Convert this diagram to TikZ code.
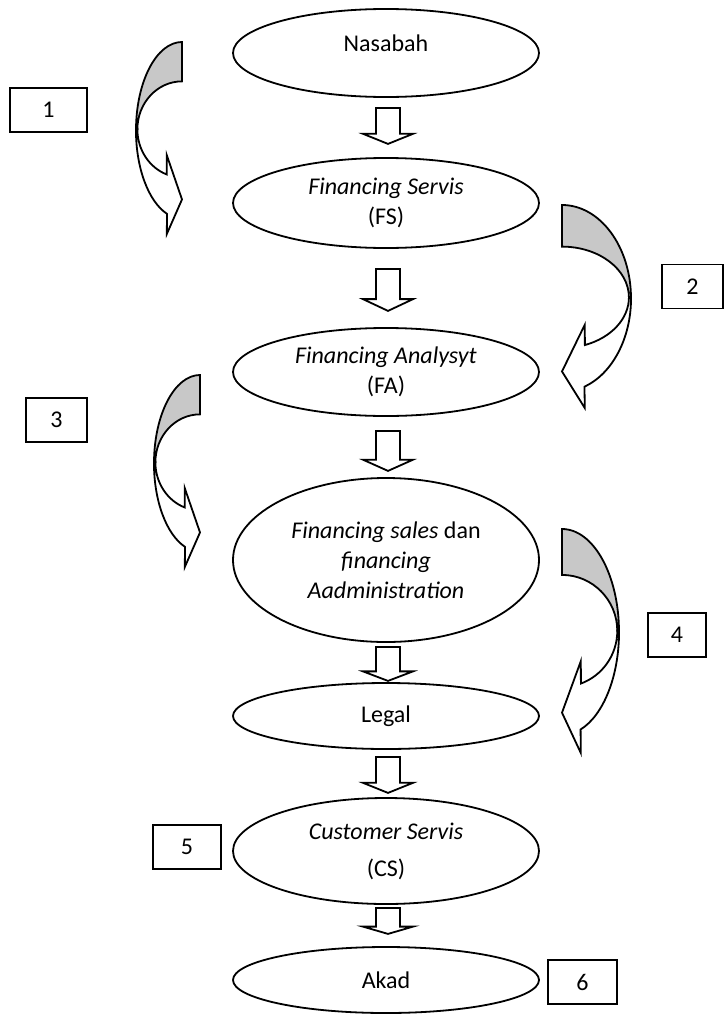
\documentclass[tikz,border=0pt]{standalone}
\usepackage{fontspec}
\setmainfont{Carlito}
\usetikzlibrary{shapes.geometric,calc}
\definecolor{bandgray}{RGB}{200,200,200}
\tikzset{
  txt/.style={font=\fontsize{24}{30}\selectfont},
  ell/.style={draw, line width=1.8pt, ellipse, minimum width=306pt, inner sep=0pt, align=center, txt},
  numbox/.style={draw, line width=1.8pt, minimum height=44pt, inner sep=0pt, txt},
  band/.style={draw, line width=1.8pt, line join=miter},
  blockarrow/.pic={
    \draw[band, fill=white] (-12,0) -- (12,0) -- (12,0.72) -- (25,0.72) -- (0,1) -- (-25,0.72) -- (-12,0.72) -- cycle;
  },
  curvarrow/.pic={
    \filldraw[band, fill=bandgray] (0,0) arc[start angle=-90,end angle=0,x radius=1,y radius=0.46]
      -- (0.97,0.455) arc[start angle=0,end angle=-90,x radius=0.97,y radius=0.25] -- cycle;
    \filldraw[band, fill=white] (0.97,0.455) arc[start angle=0,end angle=70,x radius=0.97,y radius=0.25]
      -- (0.33,0.59) -- (0,0.82) -- (0.33,1) -- (0.326,0.895)
      arc[start angle=71,end angle=0,x radius=1,y radius=0.46] -- cycle;
  }
}
\begin{document}
\begin{tikzpicture}[x=1pt,y=-1pt]
\useasboundingbox (0,0) rectangle (724,1015);
% process ellipses
\node[ell, minimum height=88pt, text height=17pt, text depth=21pt] (nas) at (386,53) {Nasabah};
\node[ell, minimum height=90pt] (fs) at (386,203) {\textit{Financing Servis}\\(FS)};
\node[ell, minimum height=88pt] (fa) at (386,372) {\textit{Financing Analysyt}\\(FA)};
\node[ell, minimum height=164pt] (fsa) at (386,560) {\textit{Financing sales} dan\\\textit{financing}\\\textit{Aadministration}};
\node[ell, minimum height=66pt] (legal) at (386,716) {Legal};
\node[ell, minimum height=106pt] (cs) at (386,851) {\textit{Customer Servis}\\[7pt](CS)};
\node[ell, minimum height=66pt] (akad) at (386,980) {Akad};
% block arrows between steps
\pic[yscale=36] (ba1) at ($(nas.south)+(2,10)$) {blockarrow};
\pic[yscale=42] (ba2) at ($(fs.south)+(2,20)$) {blockarrow};
\pic[yscale=40] (ba3) at ($(fa.south)+(2,14)$) {blockarrow};
\pic[yscale=34] (ba4) at ($(fsa.south)+(2,4)$) {blockarrow};
\pic[yscale=36] (ba5) at ($(legal.south)+(2,7)$) {blockarrow};
\pic[yscale=26] (ba6) at ($(cs.south)+(2,3)$) {blockarrow};
% curved arrows
\pic[xscale=-46, yscale=192] (ca1) at (182,42) {curvarrow};
\pic[xscale=69, yscale=203] (ca2) at (562,205) {curvarrow};
\pic[xscale=-46, yscale=192] (ca3) at (200,375) {curvarrow};
\pic[xscale=57, yscale=224] (ca4) at (562,529) {curvarrow};
% numbered boxes
\node[numbox, minimum width=77pt] (n1) at (48.5,110) {1};
\node[numbox, minimum width=61pt] (n2) at (692.5,286.5) {2};
\node[numbox, minimum width=61pt] (n3) at (56.5,420) {3};
\node[numbox, minimum width=58pt] (n4) at (677,635) {4};
\node[numbox, minimum width=68pt] (n5) at (187,847) {5};
\node[numbox, minimum width=69pt] (n6) at (582.5,982) {6};
\end{tikzpicture}
\end{document}
